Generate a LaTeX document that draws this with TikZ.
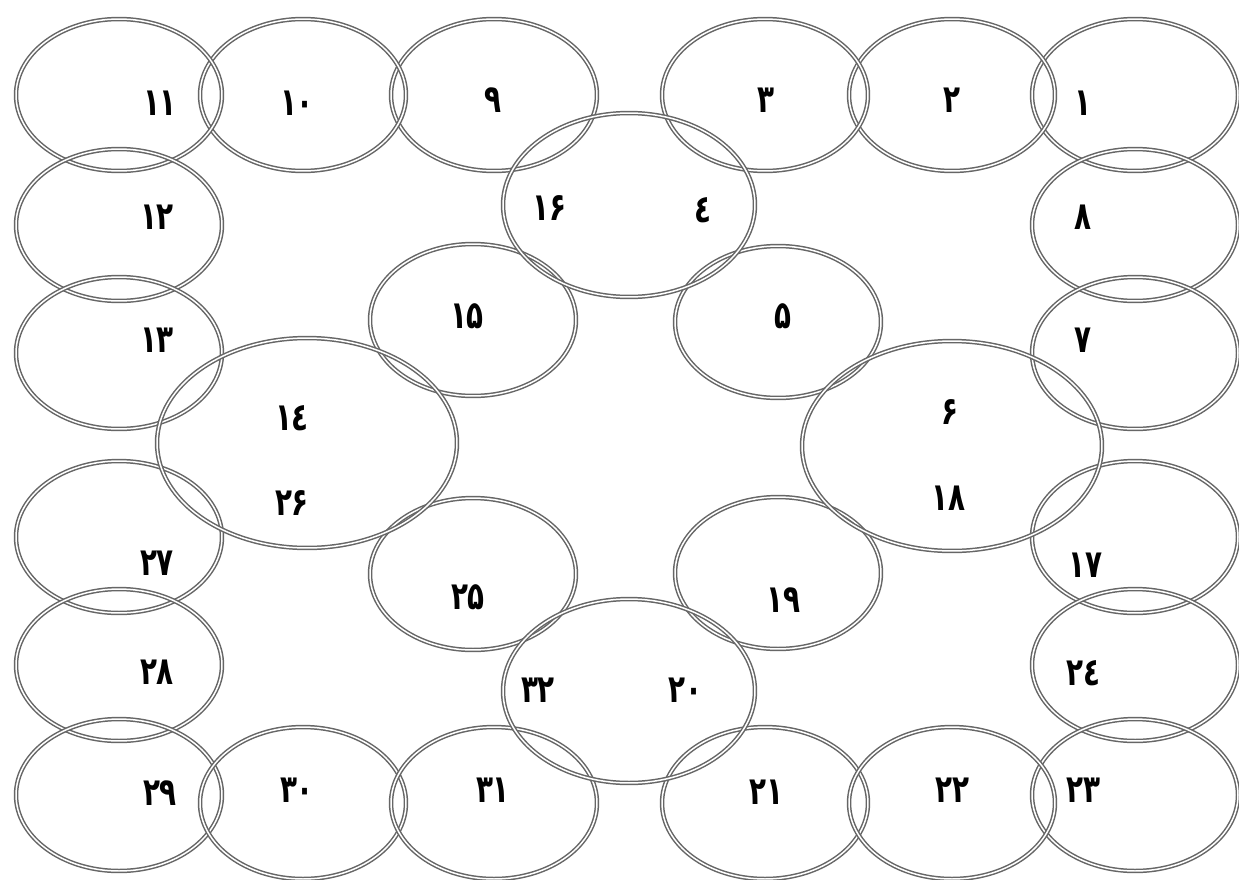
\documentclass[tikz,border=0pt]{standalone}
\usepackage{fontspec}
\newfontfamily\numfont[Script=Arabic,FakeStretch=0.72]{DejaVu Sans}
\usetikzlibrary{calc}

\begin{document}
\begin{tikzpicture}[x=0.02cm,y=-0.02cm,
  ring/.style={draw=black!60,line width=0.85pt,double=white,double distance=0.85pt},
  num/.style={font=\numfont\bfseries\fontsize{22}{24}\selectfont,inner sep=0pt}]
\useasboundingbox[fill=white] (0,0) rectangle (1239,879);
% outer frame of small rings
\coordinate (R1) at (1135,95); \coordinate (R2) at (952,95); \coordinate (R3) at (765,95);
\coordinate (R9) at (494,95); \coordinate (R10) at (303,95); \coordinate (R11) at (119,95);
\coordinate (R12) at (119,225); \coordinate (R13) at (119,353);
\coordinate (R27) at (119,537); \coordinate (R28) at (119,665); \coordinate (R29) at (119,795);
\coordinate (R8) at (1135,225); \coordinate (R7) at (1135,353);
\coordinate (R17) at (1135,537); \coordinate (R24) at (1135,665); \coordinate (R23) at (1135,795);
\coordinate (R30) at (303,803); \coordinate (R31) at (494,803);
\coordinate (R21) at (765,803); \coordinate (R22) at (952,803);
% inner rings
\coordinate (R15) at (473,320); \coordinate (R5) at (778,322);
\coordinate (R25) at (473,574); \coordinate (R19) at (778,573);
\coordinate (Rtop) at (629,205); \coordinate (Rbot) at (629,691);
\coordinate (Rleft) at (307,443); \coordinate (Rright) at (952,446);
\foreach \r in {R1,R2,R3,R9,R10,R11,R12,R13,R27,R28,R29,R8,R7,R17,R24,R23,R30,R31,R21,R22,R15,R5,R25,R19}
  \draw[ring] (\r) ellipse (2.06cm and 1.52cm);
\draw[ring] (Rtop) ellipse (2.52cm and 1.84cm);
\draw[ring] (Rbot) ellipse (2.52cm and 1.84cm);
\draw[ring] (Rleft) ellipse (3.0cm and 2.1cm);
\draw[ring] (Rright) ellipse (3.0cm and 2.1cm);
% numbers
\node[num] (n1) at (1083,103) {۱};
\node[num] (n2) at (952,100) {۲};
\node[num] (n3) at (766,100) {۳};
\node[num] (n4) at (703,210) {٤};
\node[num] (n5) at (783,316) {۵};
\node[num] (n6) at (950,412) {۶};
\node[num] (n7) at (1083,340) {۷};
\node[num] (n8) at (1083,217) {۸};
\node[num] (n9) at (493,100) {۹};
\node[num] (n10) at (297,103) {۱۰};
\node[num] (n11) at (160,103) {۱۱};
\node[num] (n12) at (157,217) {۱۲};
\node[num] (n13) at (157,340) {۱۳};
\node[num] (n14) at (292,418) {۱٤};
\node[num] (n15) at (467,316) {۱۵};
\node[num] (n16) at (549,208) {۱۶};
\node[num] (n17) at (1085,565) {۱۷};
\node[num] (n18) at (948,498) {۱۸};
\node[num] (n19) at (783,600) {۱۹};
\node[num] (n20) at (685,690) {۲۰};
\node[num] (n21) at (766,792) {۲۱};
\node[num] (n22) at (952,790) {۲۲};
\node[num] (n23) at (1083,790) {۲۳};
\node[num] (n24) at (1083,673) {۲٤};
\node[num] (n25) at (468,597) {۲۵};
\node[num] (n26) at (292,503) {۲۶};
\node[num] (n27) at (157,563) {۲۷};
\node[num] (n28) at (157,672) {۲۸};
\node[num] (n29) at (160,793) {۲۹};
\node[num] (n30) at (297,790) {۳۰};
\node[num] (n31) at (493,790) {۳۱};
\node[num] (n32) at (538,690) {۳۲};
\end{tikzpicture}
\end{document}
